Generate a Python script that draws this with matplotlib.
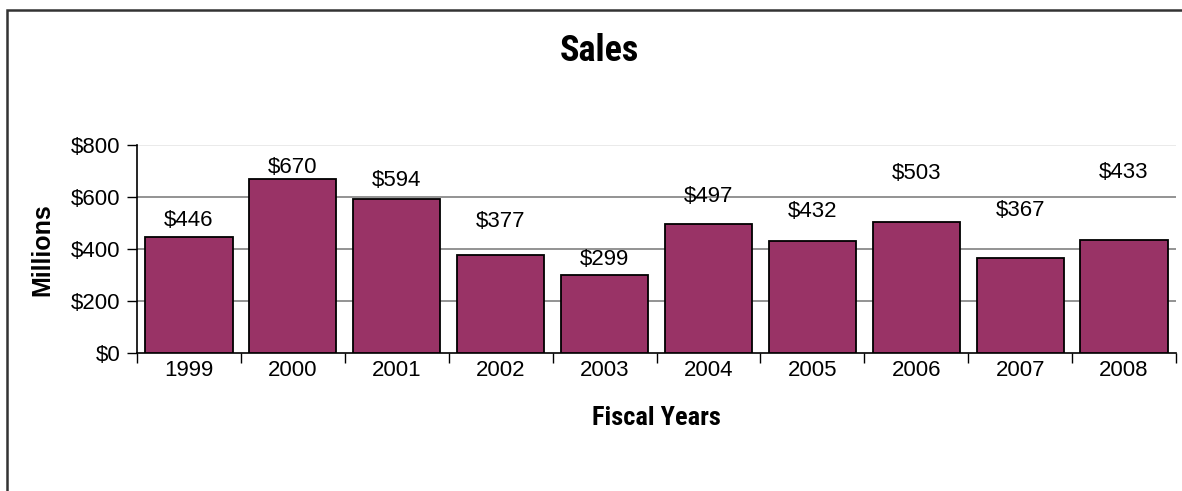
import matplotlib
matplotlib.use("Agg")
import matplotlib.pyplot as plt
from matplotlib.patches import Rectangle

years = ["1999", "2000", "2001", "2002", "2003", "2004", "2005", "2006", "2007", "2008"]
sales = [446, 670, 594, 377, 299, 497, 432, 503, 367, 433]
value_labels = ["$446", "$670", "$594", "$377", "$299", "$497", "$432", "$503", "$367", "$433"]
y_ticks = [0, 200, 400, 600, 800]
y_tick_labels = ["$0", "$200", "$400", "$600", "$800"]

# label vertical offsets above bar top (pixels), as placed in the reference
label_offsets_px = [17, 11, 18, 33, 16, 27, 29, 49, 47, 68]

FONT = ["Liberation Sans", "DejaVu Sans"]
NARROW = ["Roboto Condensed", "Liberation Sans", "DejaVu Sans"]
plt.rcParams["font.family"] = FONT

W, H = 1182, 491
fig = plt.figure(figsize=(W / 100, H / 100), dpi=100)
ax = fig.add_axes([137 / W, 1 - 353 / H, (1176 - 137) / W, (353 - 145) / H])

x = list(range(len(years)))
ax.bar(x, sales, width=0.84, color="#993366", edgecolor="black", linewidth=1.3, zorder=3)

ax.set_xlim(-0.5, len(years) - 0.5)
ax.set_ylim(0, 800)
ax.set_yticks(y_ticks)
ax.set_yticklabels(y_tick_labels, fontsize=16)
ax.set_xticks(x)
ax.set_xticklabels(years, fontsize=16)
ax.set_xticks([i - 0.5 for i in range(len(years) + 1)], minor=True)

ax.tick_params(axis="x", which="major", length=0, pad=5)
ax.tick_params(axis="x", which="minor", length=7, width=1, direction="out", color="black")
ax.tick_params(axis="y", length=7, width=1, direction="out", pad=5, color="black")

for gy in y_ticks[1:-1]:
    ax.axhline(gy, color="#808080", linewidth=1.2, zorder=1)
ax.axhline(800, color="#e6e6e6", linewidth=1.2, zorder=1)

for s in ["top", "right"]:
    ax.spines[s].set_visible(False)
for s in ["left", "bottom"]:
    ax.spines[s].set_color("black")
    ax.spines[s].set_linewidth(1.2)

for xi, v, lab, off in zip(x, sales, value_labels, label_offsets_px):
    ax.annotate(lab, (xi, v), xytext=(0, off * 0.72), textcoords="offset points",
                ha="center", va="center", fontsize=16, zorder=4)

fig.text(599 / W, 1 - 51 / H, "Sales", ha="center", va="center",
         fontsize=26, fontweight="bold", family=NARROW)
fig.text(656 / W, 1 - 418 / H, "Fiscal Years", ha="center", va="center",
         fontsize=19, fontweight="bold", family=NARROW)
fig.text(42 / W, 1 - 250 / H, "Millions", ha="center", va="center", rotation=90,
         fontsize=18, fontweight="bold")

fig.patches.append(Rectangle((7 / W, -0.1), 1.2, 1 - 10 / H + 0.1, transform=fig.transFigure,
                             fill=False, edgecolor="#333333", linewidth=1.8))

fig.savefig("out.png", dpi=100)
